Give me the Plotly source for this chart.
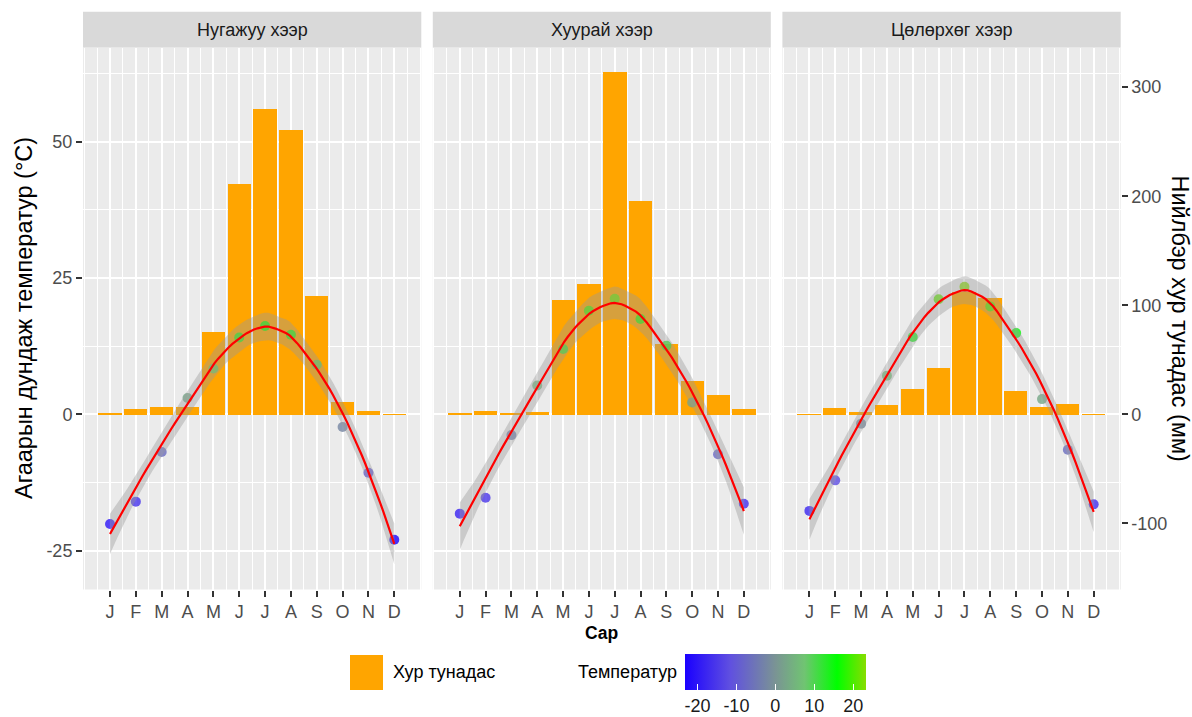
import math
import numpy as np
import plotly.graph_objects as go

# ---- data -----------------------------------------------------------------
months = ["J", "F", "M", "A", "M", "J", "J", "A", "S", "O", "N", "D"]
month_num = list(range(1, 13))
zones = ["Нугажуу хээр", "Хуурай хээр", "Цөлөрхөг хээр"]

# monthly mean air temperature (°C)
temp_nugajuu = [-20.1, -16.0, -6.9, 3.0, 8.4, 14.1, 16.2, 14.6, 9.1, -2.3, -10.7, -23.0]
temp_khuurai = [-18.2, -15.3, -3.8, 5.3, 12.0, 19.0, 21.2, 17.5, 12.6, 2.2, -7.3, -16.4]
temp_tsolorkhog = [-17.7, -12.1, -1.7, 7.1, 14.2, 21.1, 23.4, 19.8, 14.9, 2.8, -6.5, -16.5]

# monthly total precipitation (mm)
precip_nugajuu = [1.5, 5, 7, 7, 76, 212, 280, 261, 109, 12, 4, 0.5]
precip_khuurai = [1.3, 3.4, 1.5, 2.5, 105, 120, 314, 196, 65, 31, 18, 5.5]
precip_tsolorkhog = [0.5, 6.4, 3, 9.5, 24, 43, 113, 107, 21.7, 7, 10.4, 0.5]

temp_ticks = [-25, 0, 25, 50]
precip_ticks = [-100, 0, 100, 200, 300]
colorbar_ticks = [-20, -10, 0, 10, 20]

temps = [temp_nugajuu, temp_khuurai, temp_tsolorkhog]
precs = [precip_nugajuu, precip_khuurai, precip_tsolorkhog]

PRECIP_SCALE = 5.0          # mm per °C on the secondary axis
W, H = 1192, 717
FONT = "Liberation Sans, Arial, sans-serif"


# ---- loess smoother (degree 2, span 0.75) with 95% confidence band --------
def loess_weights(x, x0, span=0.75):
    n = len(x)
    q = int(math.floor(n * span))
    d = np.abs(x - x0)
    h = np.sort(d)[q - 1]
    w = np.clip(1 - (d / h) ** 3, 0, None) ** 3
    X = np.column_stack([np.ones(n), x - x0, (x - x0) ** 2])
    XtW = X.T * w
    return np.linalg.solve(XtW @ X, XtW)[0]


def t_ppf(p, df):
    c = math.exp(math.lgamma((df + 1) / 2) - math.lgamma(df / 2)) / math.sqrt(df * math.pi)

    def cdf(t):
        g = np.linspace(0.0, t, 4001)
        f = c * (1 + g * g / df) ** (-(df + 1) / 2)
        return 0.5 + np.sum((f[1:] + f[:-1]) * np.diff(g)) / 2

    lo, hi = 0.0, 60.0
    for _ in range(80):
        mid = (lo + hi) / 2
        if cdf(mid) < p:
            lo = mid
        else:
            hi = mid
    return (lo + hi) / 2


def loess_band(xv, yv, n_out=80, level=0.95):
    x = np.asarray(xv, float)
    y = np.asarray(yv, float)
    n = len(x)
    L = np.array([loess_weights(x, xi) for xi in x])
    resid = y - L @ y
    M = (np.eye(n) - L).T @ (np.eye(n) - L)
    d1 = np.trace(M)
    d2 = np.trace(M @ M)
    sigma = math.sqrt(np.sum(resid ** 2) / d1)
    tq = t_ppf(level / 2 + 0.5, d1 * d1 / d2)
    xs = np.linspace(x.min(), x.max(), n_out)
    fit, se = [], []
    for x0 in xs:
        l = loess_weights(x, x0)
        fit.append(l @ y)
        se.append(sigma * math.sqrt(np.sum(l ** 2)))
    fit = np.array(fit)
    se = np.array(se)
    return xs, fit, fit - tq * se, fit + tq * se


# ---- layout geometry (pixels -> paper) ---------------------------------------
def px(p):
    return p / W


def py(p):
    return 1 - p / H


panel_px = [(83.0, 421.3), (432.8, 770.8), (782.4, 1120.7)]
panel_top, panel_bottom = 47.5, 589.5
strip_top = 11.7
y_dom = [py(panel_bottom), py(panel_top)]
x_range = [-0.045, 13.045]
y_range = [-32.11, 67.27]

fig = go.Figure()

for i in range(3):
    ax = "" if i == 0 else str(i + 1)
    xa, ya = "x" + ax, "y" + ax
    fig.add_trace(go.Bar(
        x=month_num, y=[p / PRECIP_SCALE for p in precs[i]], width=0.9,
        marker=dict(color="#FFA500", line=dict(width=0)),
        xaxis=xa, yaxis=ya, showlegend=False, hoverinfo="skip"))
    fig.add_trace(go.Scatter(
        x=month_num, y=temps[i], mode="markers",
        marker=dict(size=10, color=temps[i], coloraxis="coloraxis", opacity=0.8,
                    line=dict(width=0)),
        xaxis=xa, yaxis=ya, showlegend=False))
    xs, fit, lo, hi = loess_band(month_num, temps[i])
    fig.add_trace(go.Scatter(
        x=np.concatenate([xs, xs[::-1]]), y=np.concatenate([hi, lo[::-1]]),
        fill="toself", fillcolor="rgba(153,153,153,0.4)", line=dict(width=0),
        mode="lines", xaxis=xa, yaxis=ya, showlegend=False, hoverinfo="skip"))
    fig.add_trace(go.Scatter(
        x=xs, y=fit, mode="lines", line=dict(color="#FF0000", width=2.2),
        xaxis=xa, yaxis=ya, showlegend=False, hoverinfo="skip"))

# carrier trace for the precipitation axis on the right
fig.add_trace(go.Scatter(x=[None], y=[None], xaxis="x3", yaxis="y4",
                         showlegend=False, hoverinfo="skip"))

minor_x = [0] + [k + 0.5 for k in range(0, 13)] + [13]
minor_y = [-12.5, 12.5, 37.5, 62.5]
tickfont = dict(family=FONT, size=18, color="#4D4D4D")

layout = dict(
    width=W, height=H, autosize=False,
    margin=dict(l=0, r=0, t=0, b=0, autoexpand=False),
    paper_bgcolor="white", plot_bgcolor="#EBEBEB",
    font=dict(family=FONT, color="#1A1A1A"),
    bargap=0, showlegend=False,
    coloraxis=dict(
        cmin=-23.2, cmax=23.3,
        colorscale=[[0.0, "#1a00ff"], [0.25, "#6050e0"], [0.5, "#7a9494"],
                    [0.66, "#70c472"], [0.84, "#00ff00"], [1.0, "#88dd00"]],
        colorbar=dict(
            orientation="h", x=px(685), xanchor="left", y=py(654), yanchor="top",
            len=181, lenmode="pixels", thickness=36, thicknessmode="pixels",
            xpad=0, ypad=0, outlinewidth=0,
            tickvals=colorbar_ticks, ticktext=[str(v) for v in colorbar_ticks],
            ticks="inside", ticklen=6, tickcolor="white", tickwidth=1.2,
            tickfont=dict(family=FONT, size=18, color="#1A1A1A"))),
)

for i in range(3):
    ax = "" if i == 0 else str(i + 1)
    l, r = panel_px[i]
    layout["xaxis" + ax] = dict(
        domain=[px(l), px(r)], range=x_range, anchor="y" + ax,
        tickvals=month_num, ticktext=months, ticks="outside", ticklen=6,
        tickwidth=2.2, tickcolor="#333333", tickfont=tickfont,
        showgrid=True, gridcolor="white", gridwidth=2.2, zeroline=False,
        minor=dict(tickvals=minor_x, showgrid=True, gridcolor="white", gridwidth=1.1),
        showline=False, fixedrange=True)
    layout["yaxis" + ax] = dict(
        domain=y_dom, range=y_range, anchor="x" + ax,
        tickvals=temp_ticks, ticktext=[str(v) for v in temp_ticks],
        showticklabels=(i == 0), ticks="outside" if i == 0 else "",
        ticklen=6, tickwidth=2.2, tickcolor="#333333", tickfont=tickfont,
        showgrid=True, gridcolor="white", gridwidth=2.2, zeroline=False,
        minor=dict(tickvals=minor_y, showgrid=True, gridcolor="white", gridwidth=1.1),
        showline=False, fixedrange=True)

layout["yaxis4"] = dict(
    overlaying="y3", anchor="x3", side="right",
    range=[y_range[0] * PRECIP_SCALE, y_range[1] * PRECIP_SCALE],
    tickvals=precip_ticks, ticktext=[str(v) for v in precip_ticks],
    ticks="outside", ticklen=6, tickwidth=2.2, tickcolor="#333333",
    tickfont=tickfont, showgrid=False, zeroline=False, showline=False,
    fixedrange=True)

shapes, annotations = [], []
for i, name in enumerate(zones):
    l, r = panel_px[i]
    shapes.append(dict(type="rect", xref="paper", yref="paper",
                       x0=px(l), x1=px(r), y0=py(panel_top), y1=py(strip_top),
                       fillcolor="#D9D9D9", line=dict(width=0), layer="below"))
    annotations.append(dict(text=name, xref="paper", yref="paper",
                            x=px((l + r) / 2), y=py((strip_top + panel_top) / 2),
                            xanchor="center", yanchor="middle", showarrow=False,
                            font=dict(family=FONT, size=18, color="#1A1A1A")))

panel_mid_y = py((panel_top + panel_bottom) / 2)
annotations += [
    dict(text="Агаарын дундаж температур (°C)", xref="paper", yref="paper",
         x=px(23.5), y=panel_mid_y, textangle=-90, xanchor="center", yanchor="middle",
         showarrow=False, font=dict(family=FONT, size=23.5, color="black")),
    dict(text="Нийлбэр хур тунадас (мм)", xref="paper", yref="paper",
         x=px(1180), y=panel_mid_y, textangle=90, xanchor="center", yanchor="middle",
         showarrow=False, font=dict(family=FONT, size=23.5, color="black")),
    dict(text="<b>Сар</b>", xref="paper", yref="paper",
         x=px((panel_px[0][0] + panel_px[2][1]) / 2), y=py(633),
         xanchor="center", yanchor="middle", showarrow=False,
         font=dict(family=FONT, size=17.5, color="black")),
    dict(text="Хур тунадас", xref="paper", yref="paper", x=px(391), y=py(672),
         xanchor="left", yanchor="middle", showarrow=False,
         font=dict(family=FONT, size=18, color="black")),
    dict(text="Температур", xref="paper", yref="paper", x=px(679), y=py(672),
         xanchor="right", yanchor="middle", showarrow=False,
         font=dict(family=FONT, size=18, color="black")),
]
# legend key for the precipitation bars
shapes.append(dict(type="rect", xref="paper", yref="paper",
                   x0=px(350), x1=px(383), y0=py(690), y1=py(655),
                   fillcolor="#FFA500", line=dict(width=0)))

layout["shapes"] = shapes
layout["annotations"] = annotations
fig.update_layout(**layout)

fig.write_html("out.html")
